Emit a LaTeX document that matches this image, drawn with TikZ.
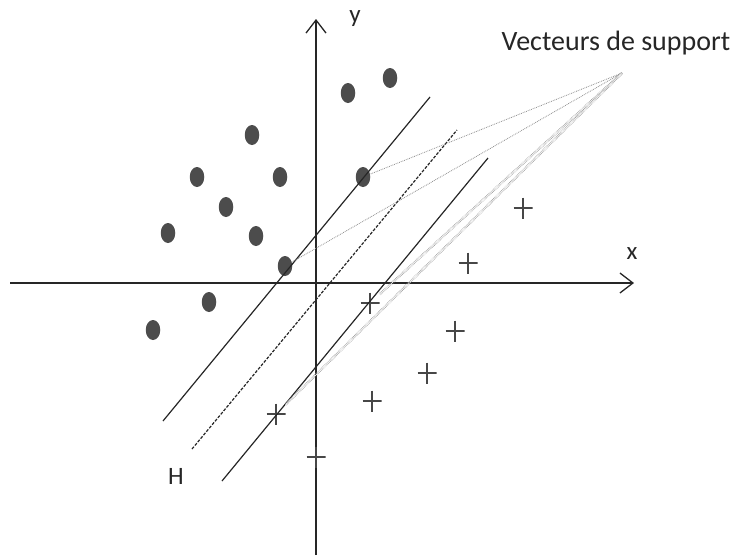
\documentclass[tikz,border=0pt]{standalone}
\usepackage{fontspec}
\setmainfont{Carlito}
\usetikzlibrary{shapes.geometric,arrows.meta}
\begin{document}
\begin{tikzpicture}[x=1pt,y=-1pt,
  axis/.style={line width=1.7pt,black!85,-{Straight Barb[length=13pt,width=20pt,line width=1.3pt]}},
  dot/.style={ellipse,fill=black!70,minimum width=14.5pt,minimum height=20pt,inner sep=0pt},
  plus/.style={minimum width=19pt,minimum height=21pt,inner sep=0pt,
    path picture={\draw[line width=2.8pt,black!72]
      (path picture bounding box.west)--(path picture bounding box.east)
      (path picture bounding box.north)--(path picture bounding box.south);}},
  margin/.style={line width=1.2pt,black!85},
  hyper/.style={line width=1.2pt,black!85,dash pattern=on 3pt off 1.5pt},
  sup/.style={line width=0.8pt,black!45,densely dotted},
  supd/.style={line width=0.6pt,black!45,densely dotted,double=white,double distance=1.2pt},
  lbl/.style={font=\fontsize{25}{28}\selectfont,text=black!85,inner sep=0pt}]
\useasboundingbox (0,0) rectangle (739,555);
% axes
\coordinate (xs) at (10,283);
\coordinate (xe) at (634,283);
\coordinate (ys) at (316,555);
\coordinate (ye) at (316,19);
\draw[axis] (xs) -- (xe);
\draw[axis] (ys) -- (ye);
\node[lbl] (xl) at (632,254) {x};
\node[lbl] (yl) at (355,19) {y};
% circles
\node[dot] (d1) at (348,93) {};
\node[dot] (d2) at (390,78) {};
\node[dot] (d3) at (252,135) {};
\node[dot] (d4) at (197,177) {};
\node[dot] (d5) at (280,177) {};
\node[dot] (d6) at (363,177) {};
\node[dot] (d7) at (226,207) {};
\node[dot] (d8) at (168,233) {};
\node[dot] (d9) at (256,236) {};
\node[dot] (d10) at (285,266) {};
\node[dot] (d11) at (209,302) {};
\node[dot] (d12) at (153,330) {};
% crosses
\node[plus] (c1) at (523,208) {};
\node[plus] (c2) at (468,263) {};
\node[plus] (c3) at (370,303) {};
\node[plus] (c4) at (455,331) {};
\node[plus] (c5) at (427,373) {};
\node[plus] (c6) at (372,401) {};
\node[plus] (c7) at (276,414) {};
\node[plus] (c8) at (316,457) {};
% margins and hyperplane
\coordinate (m1a) at (163,421);
\coordinate (m1b) at (430,97);
\coordinate (ha) at (192,449);
\coordinate (hb) at (457,130);
\coordinate (m2a) at (222,481);
\coordinate (m2b) at (488,158);
\draw[margin] (m1a) -- (m1b);
\draw[hyper] (ha) -- (hb);
\draw[margin] (m2a) -- (m2b);
\node[lbl] (H) at (176,476) {H};
% support vectors
\coordinate (sv) at (622,73);
\node[lbl,anchor=base,font=\fontsize{28}{32}\selectfont] (svl) at (616,50) {Vecteurs de support};
\draw[sup] (sv) -- (d6);
\draw[sup] (sv) -- (d10);
\draw[supd] (sv) -- (c3);
\draw[supd] (sv) -- (c7);
\end{tikzpicture}
\end{document}
